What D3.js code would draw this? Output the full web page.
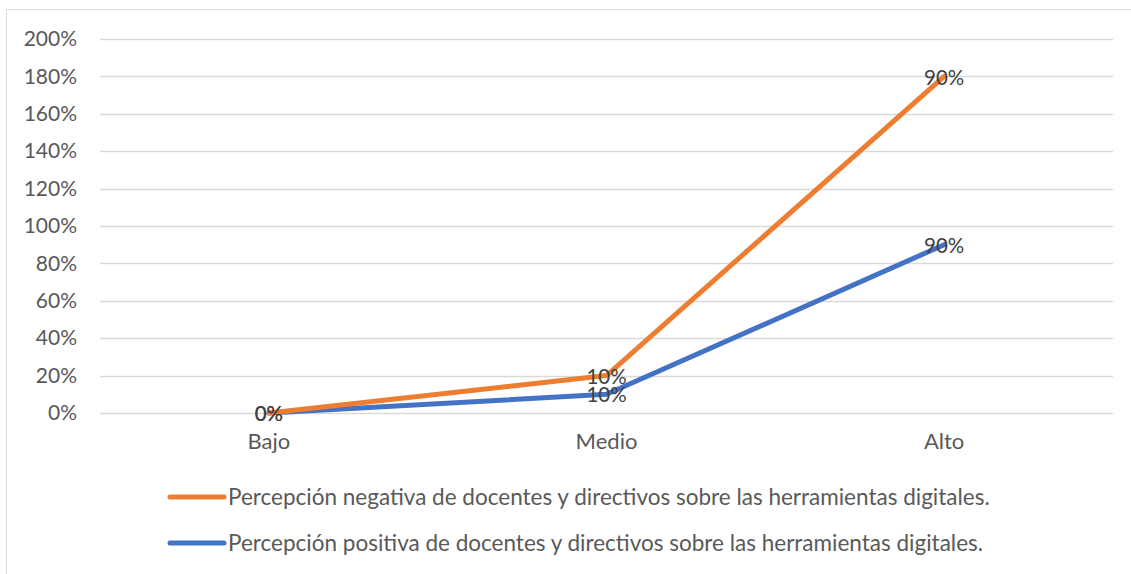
<!DOCTYPE html>
<html>
<head>
<meta charset="utf-8">
<script src="https://cdn.jsdelivr.net/npm/d3@7"></script>
<style>
  html, body { margin: 0; padding: 0; background: #fff; }
  svg { display: block; font-family: Lato, "Open Sans", sans-serif; }
</style>
</head>
<body>
<svg id="chart" width="1131" height="574"></svg>
<script>
// Categories and series (stacked lines: each series adds to the ones below)
const categories = ["Bajo", "Medio", "Alto"];
const positiva = [0, 0.10, 0.90];
const negativa = [0, 0.10, 0.90];
const yTicks = [0, 0.2, 0.4, 0.6, 0.8, 1.0, 1.2, 1.4, 1.6, 1.8, 2.0];
const seriesNames = [
  "Percepción negativa de docentes y directivos sobre las herramientas digitales.",
  "Percepción positiva de docentes y directivos sobre las herramientas digitales."
];

const svg = d3.select("#chart");
const W = 1131, H = 574;
const margin = { left: 100, right: 18, top: 39, bottom: 161 };

// Chart area border
svg.append("rect")
  .attr("x", 6.5).attr("y", 9.5)
  .attr("width", W + 10).attr("height", H + 10)
  .attr("fill", "#fff").attr("stroke", "#d9d9d9").attr("stroke-width", 1);

const x = d3.scaleBand().domain(categories).range([margin.left, W - margin.right]);
const y = d3.scaleLinear().domain([0, 2]).range([H - margin.bottom, margin.top]);

// Gridlines
svg.append("g").selectAll("line").data(yTicks).join("line")
  .attr("x1", margin.left).attr("x2", W - margin.right)
  .attr("y1", d => Math.round(y(d)) + 0.5).attr("y2", d => Math.round(y(d)) + 0.5)
  .attr("stroke", "#d9d9d9").attr("stroke-width", 1.5);

// Y axis labels
const yAxis = d3.axisLeft(y).tickValues(yTicks).tickFormat(d3.format(".0%")).tickSize(0).tickPadding(0);
svg.append("g").attr("transform", `translate(77,0)`).call(yAxis)
  .call(g => g.select(".domain").remove())
  .selectAll("text")
  .attr("font-family", "Lato, sans-serif")
  .attr("font-size", 21).attr("fill", "#595959");

// X axis labels
const xAxis = d3.axisBottom(x).tickSize(0).tickPadding(0);
svg.append("g").attr("transform", `translate(0,${H - margin.bottom + 20})`).call(xAxis)
  .call(g => g.select(".domain").remove())
  .selectAll("text")
  .attr("font-family", "Lato, sans-serif")
  .attr("font-size", 22).attr("fill", "#595959");

// Stack the series
const stacked = categories.map((c, i) => ({
  cat: c,
  pos: positiva[i],
  neg: positiva[i] + negativa[i]
}));

const cx = d => x(d.cat) + x.bandwidth() / 2;
const lineFor = key => d3.line().x(cx).y(d => y(d[key]));

const series = [
  { key: "pos", color: "#4472C4", raw: positiva },
  { key: "neg", color: "#ED7D31", raw: negativa }
];

series.forEach(s => {
  svg.append("path")
    .datum(stacked)
    .attr("d", lineFor(s.key))
    .attr("fill", "none")
    .attr("stroke", s.color)
    .attr("stroke-width", 5)
    .attr("stroke-linejoin", "round")
    .attr("stroke-linecap", "round");
});

// Data labels, centred on each point
series.forEach(s => {
  svg.append("g").selectAll("text").data(stacked).join("text")
    .attr("x", cx)
    .attr("y", d => y(d[s.key]) + 1)
    .attr("dy", "0.35em")
    .attr("text-anchor", "middle")
    .attr("font-size", 20.5)
    .attr("fill", "#404040")
    .text((d, i) => d3.format(".0%")(s.raw[i]));
});

// Legend
const legend = [
  { name: seriesNames[0], color: "#ED7D31", y: 497 },
  { name: seriesNames[1], color: "#4472C4", y: 543 }
];
const lg = svg.append("g");
legend.forEach(l => {
  lg.append("line")
    .attr("x1", 170).attr("x2", 224)
    .attr("y1", l.y).attr("y2", l.y)
    .attr("stroke", l.color).attr("stroke-width", 5)
    .attr("stroke-linecap", "round");
  lg.append("text")
    .attr("x", 228).attr("y", l.y)
    .attr("dy", "0.35em")
    .attr("font-size", 22.5)
    .attr("fill", "#595959")
    .text(l.name);
});
</script>
</body>
</html>
